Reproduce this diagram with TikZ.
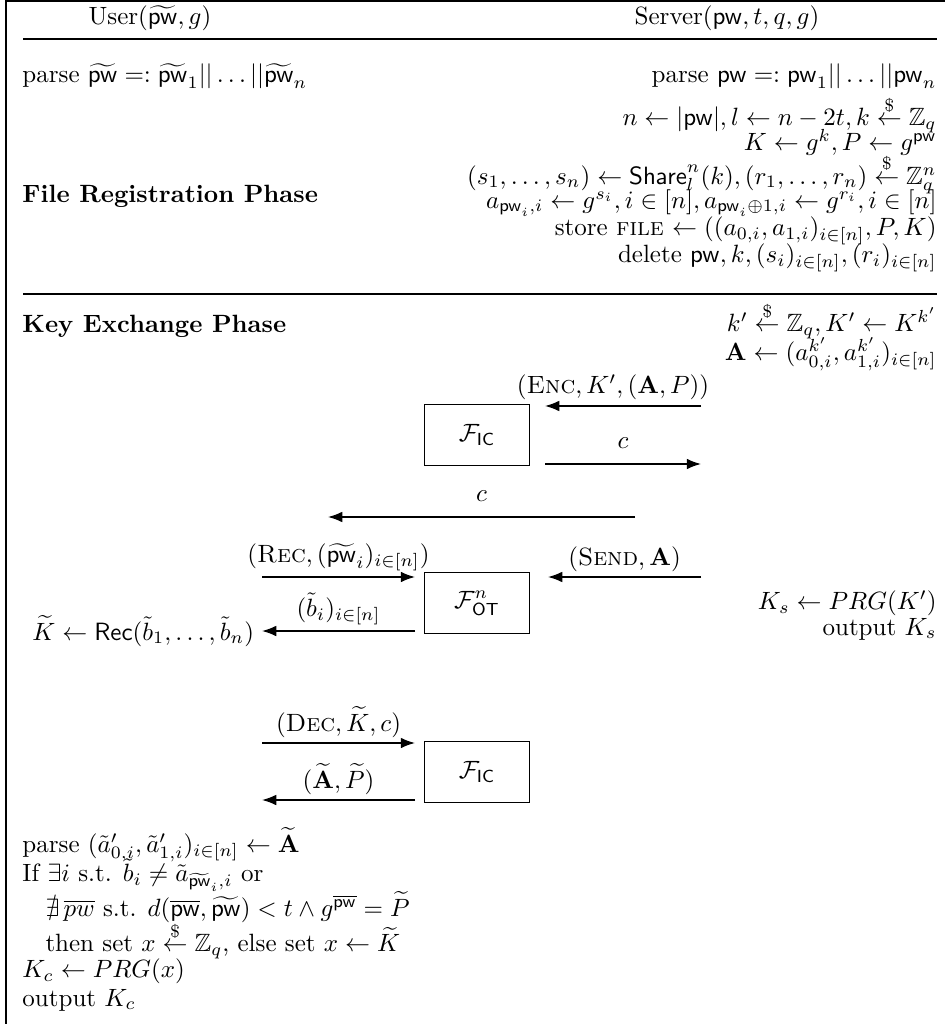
\documentclass[tikz,border=0pt]{standalone}
\usepackage{amsmath, amssymb}
\usepackage{tikz}
\usetikzlibrary{arrows.meta, positioning, calc}
\newcommand{\pw}{\mathsf{pw}}
\newcommand{\tpw}{\widetilde{\mathsf{pw}}}
\newcommand{\rand}{\stackrel{\$}{\leftarrow}}
\newcommand{\inn}{_{i\in[n]}}

\begin{document}
\begin{tikzpicture}[x=0.40pt,y=-0.40pt,
  box/.style={draw,minimum width=42pt,minimum height=24.4pt,inner sep=0pt},
  arr/.style={-Latex,semithick},
  lft/.style={anchor=west,inner sep=0pt},
  rgt/.style={anchor=east,inner sep=0pt},
  lbl/.style={above=0pt,inner sep=2pt}]
  \useasboundingbox (0,0) rectangle (945,1024);
  %% frame and rules
  \draw[semithick] (6,1024)--(6,1)--(945,1);
  \draw[semithick] (23,39)--(937,39);
  \draw[semithick] (23,294)--(937,294);
  %% parties
  \node (user) at (150,18) {User$(\tpw, g)$};
  \node (server) at (727,18) {Server$(\pw, t, q, g)$};
  %% File registration
  \node[lft] (uparse) at (22,76) {parse $\tpw =: \tpw_1||\ldots||\tpw_n$};
  \node[lft] (frp) at (22,196) {\textbf{File Registration Phase}};
  \node[rgt] (s1) at (937,76) {parse $\pw =: \pw_1||\ldots||\pw_n$};
  \node[rgt] (s2) at (937,114) {$n \leftarrow |\pw|, l \leftarrow n-2t, k \rand \mathbb{Z}_q$};
  \node[rgt] (s3) at (937,142) {$K \leftarrow g^k, P \leftarrow g^{\pw}$};
  \node[rgt] (s4) at (937,174) {$(s_1,\ldots,s_n) \leftarrow \mathsf{Share}_l^n(k), (r_1,\ldots,r_n) \rand \mathbb{Z}_q^n$};
  \node[rgt] (s5) at (937,203) {$a_{\pw_i,i} \leftarrow g^{s_i}, i\in[n], a_{\pw_i\oplus 1,i} \leftarrow g^{r_i}, i\in[n]$};
  \node[rgt] (s6) at (937,231) {store \textsc{file} $\leftarrow ((a_{0,i},a_{1,i})\inn, P, K)$};
  \node[rgt] (s7) at (937,258) {delete $\pw, k, (s_i)\inn, (r_i)\inn$};
  %% Key exchange
  \node[lft] (kep) at (22,326) {\textbf{Key Exchange Phase}};
  \node[rgt] (k1) at (937,320) {$k' \rand \mathbb{Z}_q, K' \leftarrow K^{k'}$};
  \node[rgt] (k2) at (937,354) {$\mathbf{A} \leftarrow (a^{k'}_{0,i}, a^{k'}_{1,i})\inn$};
  %% ideal cipher, encryption
  \node[box] (ic1) at (477,435) {$\mathcal{F}_{\mathsf{IC}}$};
  \coordinate (encS) at (701,406);
  \coordinate (encT) at (545,406);
  \coordinate (cS) at (545,464);
  \coordinate (cT) at (701,464);
  \coordinate (ccS) at (635,517);
  \coordinate (ccT) at (328,517);
  \draw[arr] (encS)--(encT) node[midway,lbl,xshift=-4pt]{$(\textsc{Enc}, K', (\mathbf{A}, P))$};
  \draw[arr] (cS)--(cT) node[midway,lbl,above=4pt]{$c$};
  \draw[arr] (ccS)--(ccT) node[midway,lbl,above=4pt]{$c$};
  %% oblivious transfer
  \node[box] (ot) at (477,603) {$\mathcal{F}^n_{\mathsf{OT}}$};
  \coordinate (recS) at (262,577);
  \coordinate (recT) at (415,577);
  \coordinate (sndS) at (701,577);
  \coordinate (sndT) at (548,577);
  \coordinate (bS) at (415,631);
  \coordinate (bT) at (262,631);
  \draw[arr] (recS)--(recT) node[midway,lbl]{$(\textsc{Rec}, (\tpw_i)\inn)$};
  \draw[arr] (sndS)--(sndT) node[midway,lbl]{$(\textsc{Send}, \mathbf{A})$};
  \draw[arr] (bS)--(bT) node[midway,lbl]{$(\tilde{b}_i)\inn$};
  \node[left=3pt of bT,inner sep=0pt] (krec) {$\widetilde{K} \leftarrow \mathsf{Rec}(\tilde b_1,\ldots,\tilde b_n)$};
  \node[rgt] (ks) at (937,603) {$K_s \leftarrow PRG(K')$};
  \node[rgt] (ksout) at (937,629) {output $K_s$};
  %% ideal cipher, decryption
  \node[box] (ic2) at (477,772) {$\mathcal{F}_{\mathsf{IC}}$};
  \coordinate (decS) at (262,743);
  \coordinate (decT) at (415,743);
  \coordinate (apS) at (415,800);
  \coordinate (apT) at (262,800);
  \draw[arr] (decS)--(decT) node[midway,lbl]{$(\textsc{Dec}, \widetilde{K}, c)$};
  \draw[arr] (apS)--(apT) node[midway,lbl]{$(\widetilde{\mathbf{A}}, \widetilde{P})$};
  %% user check
  \node[lft] (u1) at (22,845) {parse $(\tilde a'_{0,i}, \tilde a'_{1,i})\inn \leftarrow \widetilde{\mathbf{A}}$};
  \node[lft] (u2) at (22,875) {If $\exists i$ s.t. $\tilde b_i \neq \tilde a_{\tpw_i,i}$ or};
  \node[lft] (u3) at (45,907) {$\nexists\, \overline{pw}$ s.t. $d(\overline{\pw}, \tpw) < t \wedge g^{\overline{\pw}} = \widetilde{P}$};
  \node[lft] (u4) at (45,940) {then set $x \rand \mathbb{Z}_q$, else set $x \leftarrow \widetilde{K}$};
  \node[lft] (u5) at (22,971) {$K_c \leftarrow PRG(x)$};
  \node[lft] (u6) at (22,1000) {output $K_c$};
\end{tikzpicture}
\end{document}
